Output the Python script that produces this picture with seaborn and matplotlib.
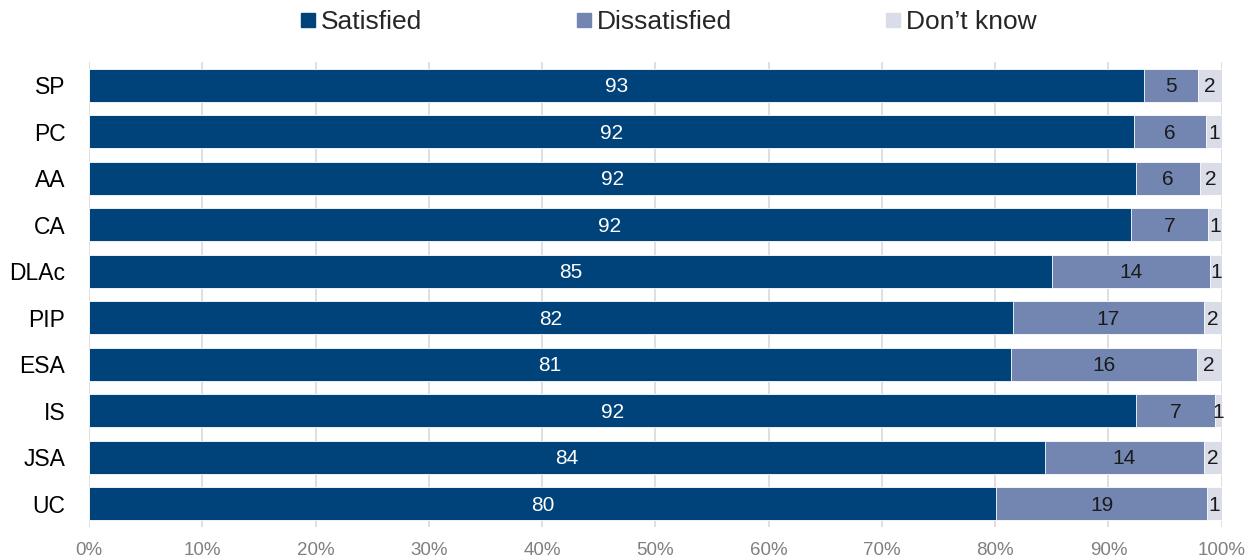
import matplotlib
matplotlib.use("Agg")
import matplotlib.pyplot as plt
from matplotlib.lines import Line2D
from matplotlib.ticker import PercentFormatter
import numpy as np
import pandas as pd
import seaborn as sns

CATEGORIES = ["SP", "PC", "AA", "CA", "DLAc", "PIP", "ESA", "IS", "JSA", "UC"]
SATISFIED = [93.1, 92.3, 92.4, 92.0, 85.0, 81.6, 81.4, 92.4, 84.4, 80.1]
DISSATISFIED = [4.8, 6.3, 5.7, 6.8, 14.0, 16.8, 16.4, 7.0, 14.0, 18.6]
DONT_KNOW = [2.1, 1.4, 1.9, 1.2, 1.0, 1.6, 2.2, 0.6, 1.6, 1.3]

SERIES = ["Satisfied", "Dissatisfied", "Don\u2019t know"]
COLORS = ["#00427A", "#7386B2", "#DADDE8"]
TEXT_COLORS = ["white", "#1a1a1a", "#1a1a1a"]

sns.set_theme(style="white")
plt.rcParams["font.family"] = ["Liberation Sans", "DejaVu Sans"]

values = np.array([SATISFIED, DISSATISFIED, DONT_KNOW])
cum = np.cumsum(values, axis=0)

fig = plt.figure(figsize=(12.53, 5.6), dpi=100)
ax = fig.add_axes([0.071, 0.059, 0.904, 0.83])

# draw from the outermost cumulative layer inwards so segments stack
for i in reversed(range(len(SERIES))):
    df = pd.DataFrame({"category": CATEGORIES, "value": cum[i]})
    sns.barplot(
        data=df,
        x="value",
        y="category",
        order=CATEGORIES,
        color=COLORS[i],
        saturation=1,
        width=0.71,
        edgecolor="white",
        linewidth=0.6,
        ax=ax,
        zorder=2,
    )

for i in range(len(SERIES)):
    start = cum[i] - values[i]
    for j in range(len(CATEGORIES)):
        ax.text(
            start[j] + values[i][j] / 2,
            j + 0.03,
            f"{values[i][j]:.0f}",
            ha="center",
            va="center",
            color=TEXT_COLORS[i],
            fontsize=15,
            zorder=3,
        )

ax.set_xlim(0, 100)
ax.set_ylim(len(CATEGORIES) - 0.5, -0.5)
ax.set_xticks(np.arange(0, 101, 10))
ax.xaxis.set_major_formatter(PercentFormatter(decimals=0))
ax.set_xlabel("")
ax.set_ylabel("")
ax.grid(axis="x", color="#D9D9D9", linewidth=1.2, zorder=0)
ax.set_axisbelow(True)
for spine in ax.spines.values():
    spine.set_visible(False)
ax.tick_params(axis="x", length=0, pad=11, labelsize=13.5, labelcolor="#808080")
ax.tick_params(axis="y", length=0, pad=17, labelsize=16.5, labelcolor="black")

handles = [
    Line2D([], [], marker="s", linestyle="", markersize=10, color=c)
    for c in COLORS
]
fig.legend(
    handles,
    SERIES,
    loc="upper center",
    bbox_to_anchor=(0.534, 1.025),
    ncol=3,
    frameon=False,
    fontsize=19,
    handlelength=0.5,
    handletextpad=0.25,
    columnspacing=5.85,
)

fig.savefig("out.png", dpi=100)
